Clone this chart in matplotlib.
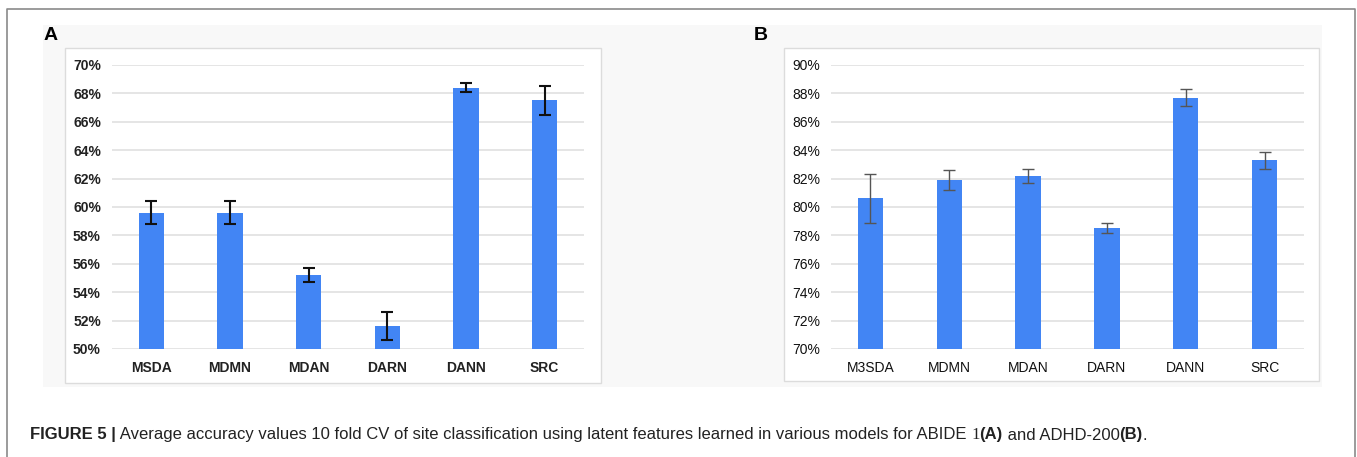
import numpy as np
import matplotlib.pyplot as plt
from matplotlib.patches import Rectangle
from matplotlib.ticker import FuncFormatter, MultipleLocator

W, H = 1357, 457

# panel A: ABIDE 1
models_a = ["MSDA", "MDMN", "MDAN", "DARN", "DANN", "SRC"]
acc_a = [59.6, 59.6, 55.2, 51.6, 68.4, 67.5]
err_a = [0.8, 0.8, 0.5, 1.0, 0.3, 1.0]

# panel B: ADHD-200
models_b = ["M3SDA", "MDMN", "MDAN", "DARN", "DANN", "SRC"]
acc_b = [80.6, 81.9, 82.2, 78.5, 87.7, 83.3]
err_b = [1.75, 0.7, 0.5, 0.35, 0.6, 0.6]

caption = [
    ("FIGURE 5 |", "Liberation Sans", "bold"),
    (" Average accuracy values 10 fold CV of site classification using latent features "
     "learned in various models for ABIDE ", "Liberation Sans", "normal"),
    ("1", "Liberation Serif", "normal"),
    ("(A)", "Liberation Sans", "bold"),
    (" and ADHD-200", "Liberation Sans", "normal"),
    ("(B)", "Liberation Sans", "bold"),
    (".", "Liberation Sans", "normal"),
]

blue = "#4285f4"
grid_c = "#e3e3e3"

fig = plt.figure(figsize=(W / 100, H / 100), dpi=100)
fig.patch.set_facecolor("white")

# background layer in pixel coordinates
bg = fig.add_axes([0, 0, 1, 1])
bg.set_xlim(0, W)
bg.set_ylim(H, 0)
bg.axis("off")
bg.plot([7, 7, 1355, 1355], [H + 5, 9, 9, H + 5], color="#8a8a8a", lw=1.2)
bg.add_patch(Rectangle((43, 25), 1322 - 43, 387 - 25, fc="#f8f8f8", ec="none"))
bg.add_patch(Rectangle((65, 48), 601 - 65, 383 - 48, fc="white", ec="#dcdcdc", lw=1))
bg.add_patch(Rectangle((784, 48), 1319 - 784, 381 - 48, fc="white", ec="#dcdcdc", lw=1))
bg.text(44, 36, "A", fontsize=14, fontweight="bold", family="Liberation Sans",
        va="center", ha="left")
bg.text(754, 36, "B", fontsize=14, fontweight="bold", family="Liberation Sans",
        va="center", ha="left")


def panel(x0, x1, models, acc, err, lo, hi, bold, ecol, elw, tcol):
    y0, y1 = 65, 349
    ax = fig.add_axes([x0 / W, 1 - y1 / H, (x1 - x0) / W, (y1 - y0) / H])
    ax.set_facecolor("none")
    x = np.arange(len(models))
    ax.bar(x, np.array(acc) - lo, bottom=lo, width=0.32, color=blue, zorder=3)
    ax.errorbar(x, acc, yerr=err, fmt="none", ecolor=ecol, elinewidth=elw,
                capsize=4, capthick=elw, zorder=4)
    ax.set_xlim(-0.5, len(models) - 0.5)
    ax.set_ylim(lo, hi)
    ax.yaxis.set_major_locator(MultipleLocator(2))
    ax.yaxis.set_major_formatter(FuncFormatter(lambda v, p: "%d%%" % round(v)))
    ax.grid(axis="y", color=grid_c, lw=1.3, zorder=0)
    ax.set_xticks(x)
    ax.set_xticklabels(models)
    for s in ax.spines.values():
        s.set_visible(False)
    ax.tick_params(length=0, labelsize=10, labelcolor=tcol)
    ax.tick_params(axis="y", pad=8)
    ax.tick_params(axis="x", pad=9)
    w = "bold" if bold else "normal"
    for t in ax.get_xticklabels() + ax.get_yticklabels():
        t.set_fontweight(w)
        t.set_family("Liberation Sans")
    return ax


panel(112, 584, models_a, acc_a, err_a, 50, 70, True, "#111111", 1.5, "#222222")
panel(831, 1304, models_b, acc_b, err_b, 70, 90, False, "#555555", 1.0, "#111111")

# caption, drawn piece by piece
fig.canvas.draw()
r = fig.canvas.get_renderer()
xp = 30
for txt, fam, wt in caption:
    t = bg.text(xp, 435, txt, fontsize=12, family=fam, fontweight=wt,
                va="center", ha="left", color="#222222")
    bb = t.get_window_extent(renderer=r)
    xp += bb.width

fig.savefig("out.png", dpi=100)
